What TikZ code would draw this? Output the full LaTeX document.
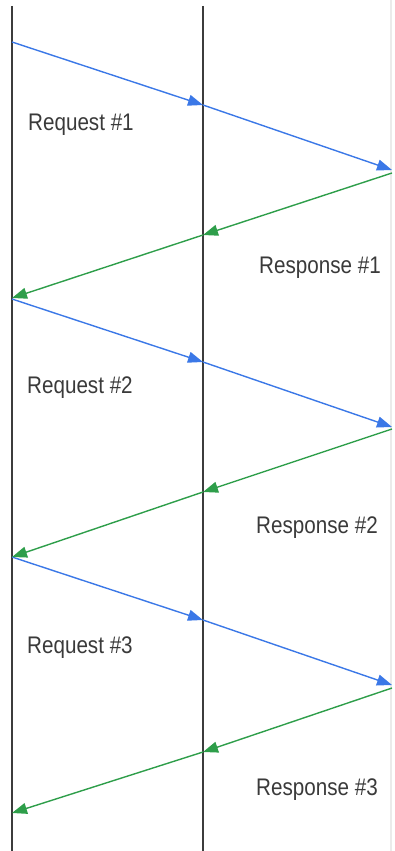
\documentclass[tikz,border=0pt]{standalone}
\usepackage{fontspec}
\setmainfont{Liberation Sans}
\usetikzlibrary{arrows.meta}
\definecolor{reqblue}{HTML}{3B78E7}
\definecolor{resgreen}{HTML}{2E9E4A}
\definecolor{lifegrey}{HTML}{3C3C3C}
\definecolor{txtgrey}{HTML}{3A3A3A}
\begin{document}
\begin{tikzpicture}[x=1pt,y=-1pt,
  lifeline/.style={draw=lifegrey,line width=1.4pt},
  faintline/.style={draw=black!8,line width=1.4pt},
  req/.style={draw=reqblue,line width=1.4pt,-{Triangle[length=15pt,width=11pt]}},
  res/.style={draw=resgreen,line width=1.4pt,-{Triangle[length=15pt,width=11pt]}},
  lbl/.style={anchor=base west,inner sep=0pt,text=txtgrey,font=\fontsize{24}{24}\selectfont,xscale=0.86,transform shape}]
\useasboundingbox (0,0) rectangle (394,851);
% lifelines
\coordinate (Ltop) at (12,6);  \coordinate (Lbot) at (12,851);
\coordinate (Mtop) at (203,6); \coordinate (Mbot) at (203,851);
\coordinate (Rtop) at (391,0); \coordinate (Rbot) at (391,851);
\draw[faintline] (Rtop) -- (Rbot);
\draw[lifeline] (Ltop) -- (Lbot);
\draw[lifeline] (Mtop) -- (Mbot);
% points
\coordinate (a1) at (12,42);   \coordinate (m1) at (203,105); \coordinate (r1) at (392,170);
\coordinate (b1) at (392,173); \coordinate (n1) at (203,235); \coordinate (l1) at (12,298);
\coordinate (a2) at (12,299);  \coordinate (m2) at (203,362); \coordinate (r2) at (392,427);
\coordinate (b2) at (392,429); \coordinate (n2) at (203,492); \coordinate (l2) at (12,557);
\coordinate (a3) at (12,557);  \coordinate (m3) at (203,620); \coordinate (r3) at (392,685);
\coordinate (b3) at (392,688); \coordinate (n3) at (203,752); \coordinate (l3) at (12,813);
% requests
\draw[req] (a1) -- (m1); \draw[req] (m1) -- (r1);
\draw[req] (a2) -- (m2); \draw[req] (m2) -- (r2);
\draw[req] (a3) -- (m3); \draw[req] (m3) -- (r3);
% responses
\draw[res] (b1) -- (n1); \draw[res] (n1) -- (l1);
\draw[res] (b2) -- (n2); \draw[res] (n2) -- (l2);
\draw[res] (b3) -- (n3); \draw[res] (n3) -- (l3);
% labels
\node[lbl] (q1) at (28,130) {Request \#1};
\node[lbl] (p1) at (259,273) {Response \#1};
\node[lbl] (q2) at (27,393) {Request \#2};
\node[lbl] (p2) at (256,533) {Response \#2};
\node[lbl] (q3) at (27,653) {Request \#3};
\node[lbl] (p3) at (256,795) {Response \#3};
\end{tikzpicture}
\end{document}
